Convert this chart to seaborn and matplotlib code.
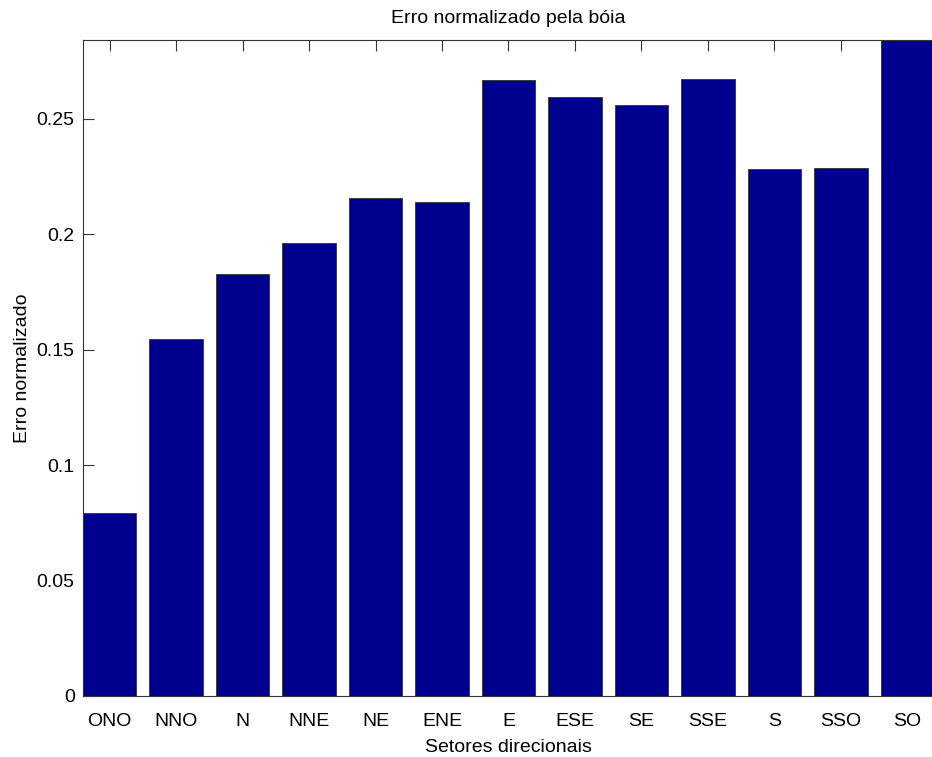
import matplotlib
matplotlib.use("Agg")
import matplotlib.pyplot as plt
import seaborn as sns
import pandas as pd

# Direction sectors and normalised error per sector
setores = ["ONO", "NNO", "N", "NNE", "NE", "ENE", "E", "ESE", "SE", "SSE", "S", "SSO", "SO"]
erro = [0.0793, 0.1547, 0.1828, 0.1963, 0.2158, 0.2140, 0.2669, 0.2595,
        0.2561, 0.2673, 0.2283, 0.2288, 0.2960]
yticks = [0, 0.05, 0.1, 0.15, 0.2, 0.25]
ytick_labels = ["0", "0.05", "0.1", "0.15", "0.2", "0.25"]

df = pd.DataFrame({"setor": setores, "erro": erro})

sns.set_style("white")
plt.rcParams["font.family"] = ["Liberation Sans", "DejaVu Sans"]
plt.rcParams["text.color"] = "black"
plt.rcParams["axes.labelcolor"] = "black"
plt.rcParams["xtick.labelcolor"] = "black"
plt.rcParams["ytick.labelcolor"] = "black"

fig = plt.figure(figsize=(9.32, 7.57), dpi=100)
ax = fig.add_axes([83 / 932, 61 / 757, 851 / 932, 656 / 757])

sns.barplot(data=df, x="setor", y="erro", color="#00008F", saturation=1,
            width=0.8, edgecolor="#333333", linewidth=0.6, ax=ax)

ax.set_xlim(-0.4, 12.4)
ax.set_ylim(0, 0.2842)
ax.set_yticks(yticks)
ax.set_yticklabels(ytick_labels)

ax.tick_params(axis="x", direction="in", bottom=False, top=True, labelbottom=True,
               length=8, width=0.8, color="#333333", labelsize=14, pad=12)
ax.tick_params(axis="y", direction="in", left=True, right=False,
               length=8, width=0.8, color="#333333", labelsize=14, pad=6)

for side in ["left", "top", "bottom"]:
    ax.spines[side].set_visible(True)
    ax.spines[side].set_color("#333333")
    ax.spines[side].set_linewidth(0.8)
ax.spines["right"].set_visible(False)

ax.set_title("Erro normalizado pela bóia", fontsize=14, pad=12)
ax.set_xlabel("Setores direcionais", fontsize=14, labelpad=7)
ax.set_ylabel("Erro normalizado", fontsize=14, labelpad=4)

fig.savefig("out.png", dpi=100)
